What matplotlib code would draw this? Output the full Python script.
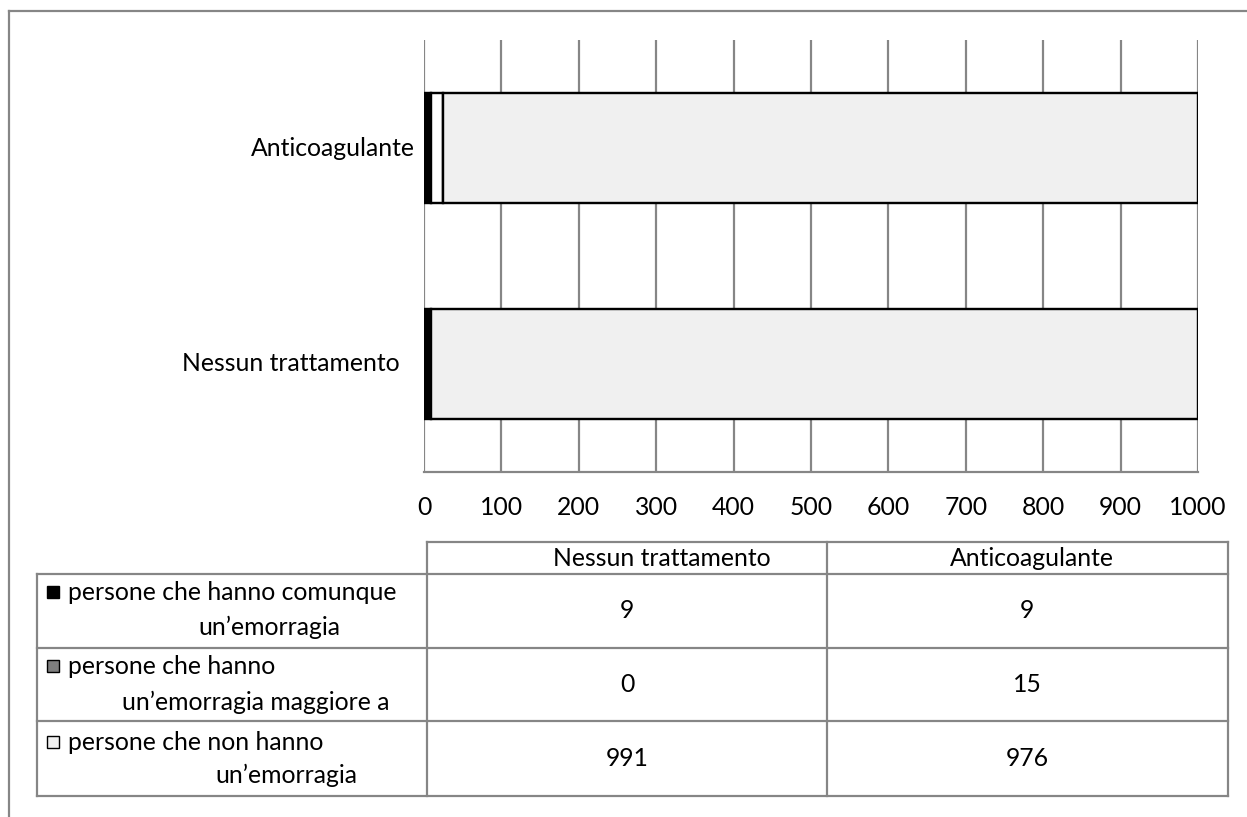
import matplotlib
matplotlib.use("Agg")
import matplotlib.pyplot as plt
from matplotlib.patches import Rectangle
from matplotlib.lines import Line2D
import matplotlib.transforms as mtransforms

# ---- data ----
categories = ["Nessun trattamento", "Anticoagulante"]
series_names = [
    ["persone che hanno comunque", "un\u2019emorragia"],
    ["persone che hanno", "un\u2019emorragia maggiore a"],
    ["persone che non hanno", "un\u2019emorragia"],
]
series_values = [
    [9, 9],      # persone che hanno comunque un'emorragia
    [0, 15],     # persone che hanno un'emorragia maggiore a
    [991, 976],  # persone che non hanno un'emorragia
]
x_ticks = [0, 100, 200, 300, 400, 500, 600, 700, 800, 900, 1000]

# ---- styles ----
bar_colors = ["#000000", "#ffffff", "#f0f0f0"]
key_colors = ["#000000", "#7f7f7f", "#f0f0f0"]
grid_color = "#868686"
FONT = "Lato"
FS = 17.8

W, H = 1247, 817
DPI = 100
fig = plt.figure(figsize=(W / DPI, H / DPI), dpi=DPI)
plt.rcParams["font.family"] = [FONT, "DejaVu Sans"]

def px(v):
    return v * 72.0 / DPI

# plot area in pixels
L, R, T, B = 424, 1198, 40, 472
ax = fig.add_axes([L / W, 1 - B / H, (R - L) / W, (B - T) / H])
ax.set_xlim(0, 1000)
ax.set_ylim(-0.5, 1.5)
for s in ["top", "right", "left"]:
    ax.spines[s].set_visible(False)
ax.spines["bottom"].set_color(grid_color)
ax.spines["bottom"].set_linewidth(px(2.2))
ax.set_xticks(x_ticks)
ax.set_xticklabels([str(t) for t in x_ticks], fontsize=FS, fontfamily=FONT)
ax.tick_params(axis="x", length=0, pad=px(24))
ax.set_yticks([])
ax.xaxis.grid(True, color=grid_color, linewidth=px(2.2))
ax.set_axisbelow(True)

ypos = list(range(len(categories)))
left = [0] * len(categories)
for vals, col in zip(series_values, bar_colors):
    ax.barh(ypos, vals, left=left, height=0.51, color=col,
            edgecolor="black", linewidth=px(2.4), zorder=3)
    left = [a + b for a, b in zip(left, vals)]

# category labels
label_offsets = [-24, -9]  # pixels left of axis
for yi, cat, off in zip(ypos, categories, label_offsets):
    tr = mtransforms.blended_transform_factory(ax.transAxes, ax.transData)
    tr = tr + mtransforms.ScaledTranslation(off / DPI, 0, fig.dpi_scale_trans)
    ax.text(0, yi, cat, transform=tr, ha="right", va="center",
            fontsize=FS, fontfamily=FONT)

# ---- overlay for data table and border ----
ov = fig.add_axes([0, 0, 1, 1], zorder=-1)
ov.set_xlim(0, W)
ov.set_ylim(H, 0)
ov.axis("off")
ov.patch.set_alpha(0)

lw_t = px(2.2)
def hline(y, x0, x1):
    ov.add_line(Line2D([x0, x1], [y, y], color=grid_color, linewidth=lw_t))
def vline(x, y0, y1):
    ov.add_line(Line2D([x, x], [y0, y1], color=grid_color, linewidth=lw_t))

# outer border
hline(11, 9.3, W + 5)
vline(9.3, 11, H + 5)

tx0, tx1, tx2, tx3 = 37.3, 427, 827, 1228
ty_head, ty0, ty1, ty2, ty3 = 541.7, 574, 647.7, 721, 796
hline(ty_head, tx1, tx3)
for y in [ty0, ty1, ty2, ty3]:
    hline(y, tx0, tx3)
vline(tx0, ty0, ty3)
for x in [tx1, tx2, tx3]:
    vline(x, ty_head, ty3)

# header
header_x = [662, 1032]
for hx, cat in zip(header_x, categories):
    ov.text(hx, (ty_head + ty0) / 2 + 1, cat, ha="center", va="center",
            fontsize=FS, fontfamily=FONT)

# rows
row_bounds = [(ty0, ty1), (ty1, ty2), (ty2, ty3)]
col_centers = [627, 1027]
line1_y = [592, 666, 742]
line2_y = [627, 702, 775]
line2_x = [198, 122, 215]
for i, (name, vals, kc) in enumerate(zip(series_names, series_values, key_colors)):
    y0, y1 = row_bounds[i]
    ov.add_patch(Rectangle((47.3, line1_y[i] - 6), 12, 12, facecolor=kc,
                           edgecolor="black", linewidth=px(1.4)))
    ov.text(67.5, line1_y[i], name[0], ha="left", va="center",
            fontsize=FS, fontfamily=FONT)
    ov.text(line2_x[i], line2_y[i], name[1], ha="left", va="center",
            fontsize=FS, fontfamily=FONT)
    for cx, v in zip(col_centers, vals):
        ov.text(cx, (y0 + y1) / 2, str(v), ha="center", va="center",
                fontsize=FS, fontfamily=FONT)

fig.savefig("out.png", dpi=DPI)
